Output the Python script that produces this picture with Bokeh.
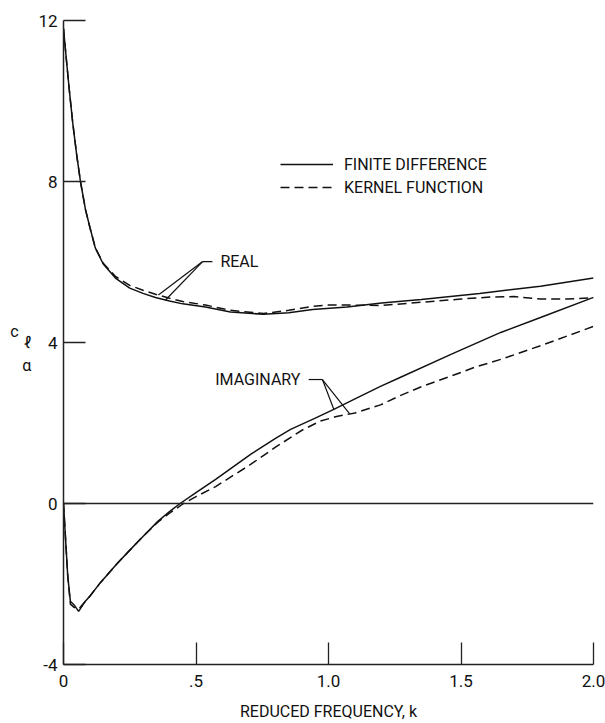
import numpy as np
from bokeh.plotting import figure
from bokeh.models import Range1d, FixedTicker, Span, Label, Legend, LegendItem, LinearAxis
from bokeh.embed import file_html
from bokeh.resources import INLINE

FONT = "Roboto"
INK = "#111111"

# Lift-curve-slope derivative c_l_alpha versus reduced frequency k
k_real_fd = [0, 0.012, 0.023, 0.035, 0.05, 0.064, 0.083, 0.1, 0.12, 0.15, 0.196, 0.25, 0.3,
             0.347, 0.4, 0.45, 0.536, 0.63, 0.755, 0.85, 0.94, 1.07, 1.2, 1.35, 1.57, 1.8, 2.0]
real_fd = [11.8, 10.95, 10.2, 9.45, 8.65, 8.0, 7.3, 6.85, 6.35, 5.95, 5.6, 5.35, 5.22,
           5.12, 5.03, 4.96, 4.88, 4.76, 4.70, 4.74, 4.82, 4.88, 4.98, 5.07, 5.22, 5.40, 5.60]

k_real_kf = [0, 0.012, 0.023, 0.035, 0.05, 0.064, 0.083, 0.1, 0.12, 0.15, 0.196, 0.25, 0.3,
             0.347, 0.4, 0.45, 0.536, 0.63, 0.755, 0.85, 0.94, 1.0, 1.07, 1.2, 1.35, 1.5, 1.61,
             1.7, 1.8, 1.9, 2.0]
real_kf = [11.8, 10.95, 10.2, 9.45, 8.65, 8.0, 7.3, 6.85, 6.35, 5.97, 5.64, 5.42, 5.30,
           5.20, 5.10, 5.02, 4.93, 4.80, 4.72, 4.80, 4.90, 4.93, 4.93, 4.92, 5.00, 5.08, 5.13,
           5.14, 5.08, 5.08, 5.11]

k_imag_fd = [0, 0.008, 0.016, 0.026, 0.04, 0.057, 0.08, 0.1, 0.14, 0.2, 0.253, 0.3, 0.355,
             0.4, 0.44, 0.5, 0.574, 0.706, 0.8, 0.857, 0.95, 1.02, 1.1, 1.196, 1.27, 1.46,
             1.65, 1.8, 2.0]
imag_fd = [0, -0.9, -1.8, -2.43, -2.52, -2.68, -2.45, -2.3, -1.96, -1.51, -1.14, -0.82, -0.45,
           -0.2, 0.0, 0.27, 0.6, 1.22, 1.62, 1.84, 2.12, 2.34, 2.6, 2.91, 3.13, 3.70,
           4.25, 4.62, 5.12]

k_imag_kf = [0, 0.008, 0.016, 0.026, 0.04, 0.057, 0.08, 0.1, 0.14, 0.2, 0.253, 0.3, 0.355,
             0.4, 0.453, 0.5, 0.574, 0.706, 0.8, 0.9, 0.97, 1.03, 1.1, 1.196, 1.27, 1.35,
             1.46, 1.55, 1.65, 1.8, 2.0]
imag_kf = [0, -0.9, -1.8, -2.5, -2.58, -2.62, -2.45, -2.3, -1.96, -1.51, -1.14, -0.82, -0.47,
           -0.24, 0.0, 0.17, 0.42, 0.97, 1.40, 1.82, 2.05, 2.16, 2.25, 2.45, 2.68, 2.90,
           3.16, 3.38, 3.58, 3.92, 4.40]

x_ticks = [0, 0.5, 1.0, 1.5, 2.0]
x_tick_labels = ["0", ".5", "1.0", "1.5", "2.0"]
y_ticks = [-4, 0, 4, 8, 12]
y_tick_labels = ["-4", "0", "4", "8", "12"]

p = figure(width=605, height=723, x_range=Range1d(0, 2), y_range=Range1d(-4, 12),
           output_backend="svg", toolbar_location=None,
           min_border_left=63, min_border_right=12, min_border_top=20, min_border_bottom=58)
p.outline_line_color = None
p.grid.visible = False

for ax in (p.xaxis[0], p.yaxis[0]):
    ax.axis_line_width = 1.5
    ax.axis_line_color = "#222222"
    ax.major_tick_in = 22
    ax.major_tick_out = 0
    ax.major_tick_line_width = 1.3
    ax.major_tick_line_color = "#222222"
    ax.minor_tick_line_color = None
    ax.major_label_text_font = FONT
    ax.major_label_text_font_size = "17px"
    ax.major_label_text_color = INK

p.xaxis.ticker = FixedTicker(ticks=x_ticks)
p.xaxis.major_label_overrides = dict(zip(x_ticks, x_tick_labels))
p.xaxis.major_label_standoff = 10
p.xaxis.axis_label = "REDUCED FREQUENCY, k"
p.xaxis.axis_label_text_font = FONT
p.xaxis.axis_label_text_font_style = "normal"
p.xaxis.axis_label_text_font_size = "16px"
p.xaxis.axis_label_text_color = INK
p.xaxis.axis_label_standoff = 12

p.yaxis.ticker = FixedTicker(ticks=y_ticks)
p.yaxis.major_label_overrides = dict(zip(y_ticks, y_tick_labels))
p.yaxis.major_label_standoff = 6

# y symbol c_l_alpha: the subscripts sit with the main axis, the "c" on a label-only axis outside it
p.yaxis.axis_label = " \n\u2113\n\u03b1"
p.yaxis.axis_label_orientation = "horizontal"
p.yaxis.axis_label_standoff = 4
p.yaxis.axis_label_text_font = FONT
p.yaxis.axis_label_text_font_style = "normal"
p.yaxis.axis_label_text_font_size = "16px"
p.yaxis.axis_label_text_color = INK
p.yaxis.axis_label_text_baseline = "middle"

c_axis = LinearAxis(axis_label="c\n ", ticker=FixedTicker(ticks=[]),
                    axis_line_color=None, major_tick_line_color=None, minor_tick_line_color=None,
                    axis_label_orientation="horizontal", axis_label_standoff=1,
                    axis_label_text_font=FONT, axis_label_text_font_style="normal",
                    axis_label_text_font_size="16px", axis_label_text_color=INK,
                    axis_label_text_baseline="middle")
p.add_layout(c_axis, "left")

# zero line across the whole plot
p.add_layout(Span(location=0, dimension="width", line_color="#222222", line_width=1.3))

solid = dict(line_color=INK, line_width=1.5)
dashed = dict(line_color=INK, line_width=1.5, line_dash="9 5")

r_fd = p.line(k_real_fd, real_fd, **solid)
r_kf = p.line(k_real_kf, real_kf, **dashed)
p.line(k_imag_fd, imag_fd, **solid)
p.line(k_imag_kf, imag_kf, **dashed)


def leader(x_left, x_right, y, start, targets):
    """Short horizontal tick beside a callout, fanning out to points on the curves."""
    p.line([x_left, x_right], [y, y], line_color=INK, line_width=1.2)
    for xs, ys, kt in targets:
        p.line([start, kt], [y, float(np.interp(kt, xs, ys))], line_color=INK, line_width=1.2)


leader(0.525, 0.562, 6.01, 0.525,
       [(k_real_kf, real_kf, 0.358), (k_real_fd, real_fd, 0.385)])
leader(0.925, 0.977, 3.08, 0.977,
       [(k_imag_fd, imag_fd, 1.02), (k_imag_kf, imag_kf, 1.08)])

lab = dict(text_font=FONT, text_font_size="16px", text_color=INK, text_baseline="middle")
p.add_layout(Label(x=0.592, y=6.01, text="REAL", text_align="left", **lab))
p.add_layout(Label(x=0.894, y=3.08, text="IMAGINARY", text_align="right", **lab))

legend = Legend(items=[LegendItem(label="FINITE DIFFERENCE", renderers=[r_fd]),
                       LegendItem(label="KERNEL FUNCTION", renderers=[r_kf])],
                location=(217, 467), glyph_width=53, glyph_height=20, label_height=20,
                spacing=3, padding=0, margin=0, label_standoff=11,
                border_line_color=None, background_fill_alpha=0,
                label_text_font=FONT, label_text_font_size="16px", label_text_color=INK)
p.add_layout(legend)

open("out.html", "w").write(file_html(p, INLINE))
